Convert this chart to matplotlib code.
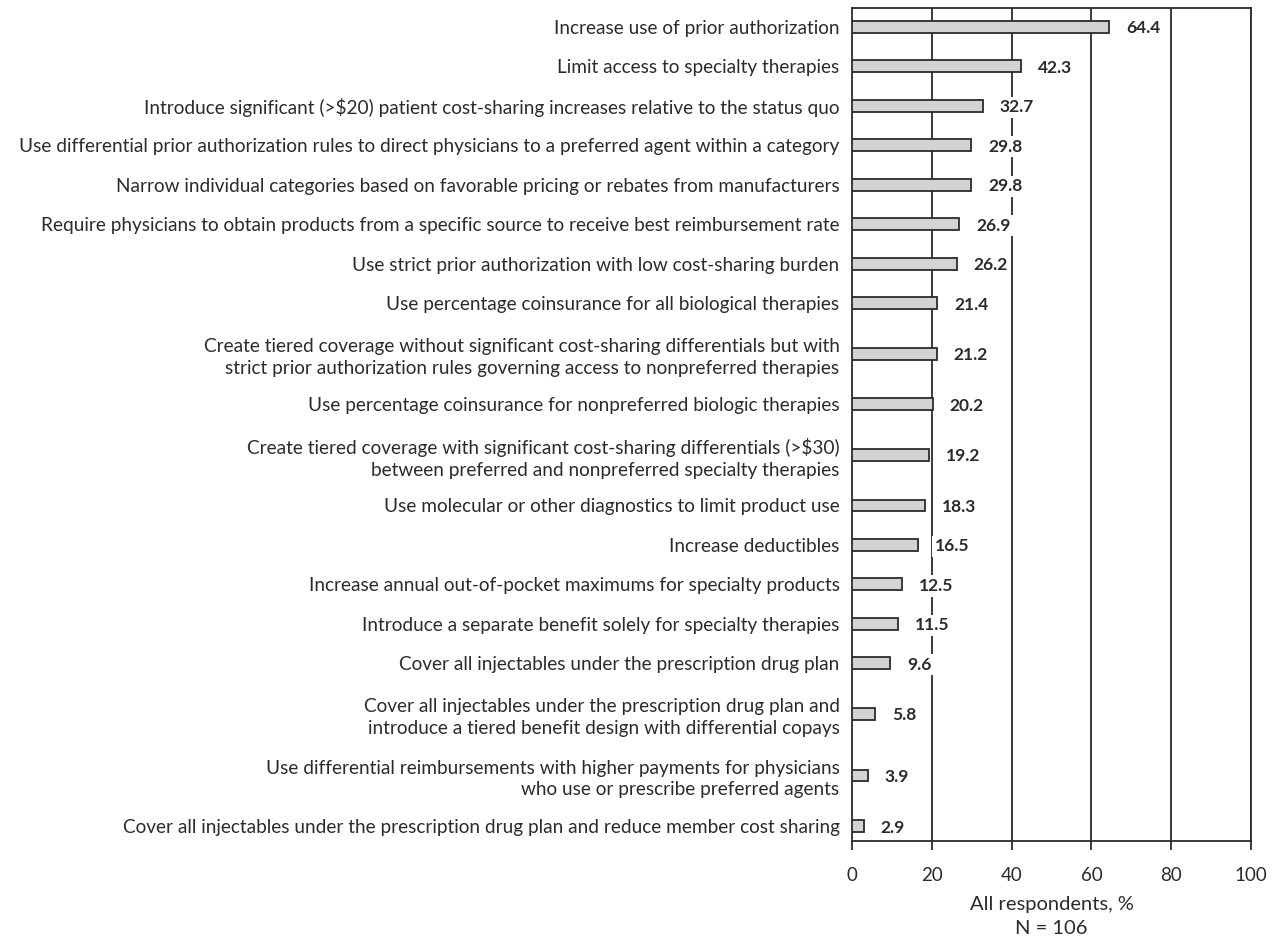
import matplotlib
matplotlib.use("Agg")
import matplotlib.pyplot as plt
import numpy as np

plt.rcParams["font.family"] = ["Lato", "DejaVu Sans"]

# Survey responses: share of all respondents (%), top to bottom
STRATEGIES = [
    "Increase use of prior authorization",
    "Limit access to specialty therapies",
    "Introduce significant (>$20) patient cost-sharing increases relative to the status quo",
    "Use differential prior authorization rules to direct physicians to a preferred agent within a category",
    "Narrow individual categories based on favorable pricing or rebates from manufacturers",
    "Require physicians to obtain products from a specific source to receive best reimbursement rate",
    "Use strict prior authorization with low cost-sharing burden",
    "Use percentage coinsurance for all biological therapies",
    "Create tiered coverage without significant cost-sharing differentials but with\n"
    "strict prior authorization rules governing access to nonpreferred therapies",
    "Use percentage coinsurance for nonpreferred biologic therapies",
    "Create tiered coverage with significant cost-sharing differentials (>$30)\n"
    "between preferred and nonpreferred specialty therapies",
    "Use molecular or other diagnostics to limit product use",
    "Increase deductibles",
    "Increase annual out-of-pocket maximums for specialty products",
    "Introduce a separate benefit solely for specialty therapies",
    "Cover all injectables under the prescription drug plan",
    "Cover all injectables under the prescription drug plan and\n"
    "introduce a tiered benefit design with differential copays",
    "Use differential reimbursements with higher payments for physicians\n"
    "who use or prescribe preferred agents",
    "Cover all injectables under the prescription drug plan and reduce member cost sharing",
]
PERCENT = [64.4, 42.3, 32.7, 29.8, 29.8, 26.9, 26.2, 21.4, 21.2, 20.2,
           19.2, 18.3, 16.5, 12.5, 11.5, 9.6, 5.8, 3.9, 2.9]
XTICKS = [0, 20, 40, 60, 80, 100]

INK = "#2b2b2b"
BAR_FILL = "#d3d3d3"

# two-line labels get a little more room than single-line rows
n_lines = [s.count("\n") + 1 for s in STRATEGIES]
ypos = [0.0]
for i in range(1, len(STRATEGIES)):
    extra = (n_lines[i - 1] - 1) + (n_lines[i] - 1)
    ypos.append(ypos[-1] + 1.0 + 0.28 * extra)
ypos = np.array(ypos)

fig = plt.figure(figsize=(12.79, 9.40), dpi=100)
ax = fig.add_axes([0.6662, 0.1053, 0.3119, 0.8862])

for x in XTICKS[1:]:
    ax.axvline(x, color=INK, lw=1.3, zorder=1)

ax.barh(ypos, PERCENT, height=0.30, color=BAR_FILL, edgecolor=INK,
        linewidth=1.3, zorder=3)

for y, v in zip(ypos, PERCENT):
    ax.text(v + 4.3, y, f"{v:.1f}", ha="left", va="center_baseline",
            fontsize=12.5, fontweight="bold", color=INK, zorder=4,
            bbox=dict(boxstyle="square,pad=0.15", facecolor="white",
                      edgecolor="none"))

ax.set_xlim(0, 100)
ax.set_ylim(ypos[-1] + 0.38, -0.48)
ax.set_xticks(XTICKS)
ax.set_xticklabels([str(t) for t in XTICKS], fontsize=13.5, color=INK)
ax.tick_params(axis="x", direction="out", length=6.5, width=1.3,
               color=INK, pad=12)
ax.set_yticks(ypos)
ax.set_yticklabels(STRATEGIES, fontsize=13.7, color=INK,
                   multialignment="right", linespacing=1.3)
ax.tick_params(axis="y", length=0, pad=9)
for sp in ax.spines.values():
    sp.set_color(INK)
    sp.set_linewidth(1.3)

ax.set_xlabel("All respondents, %\nN = 106", fontsize=14.5, color=INK,
              linespacing=1.45, labelpad=9)

fig.savefig("out.png", dpi=100)
